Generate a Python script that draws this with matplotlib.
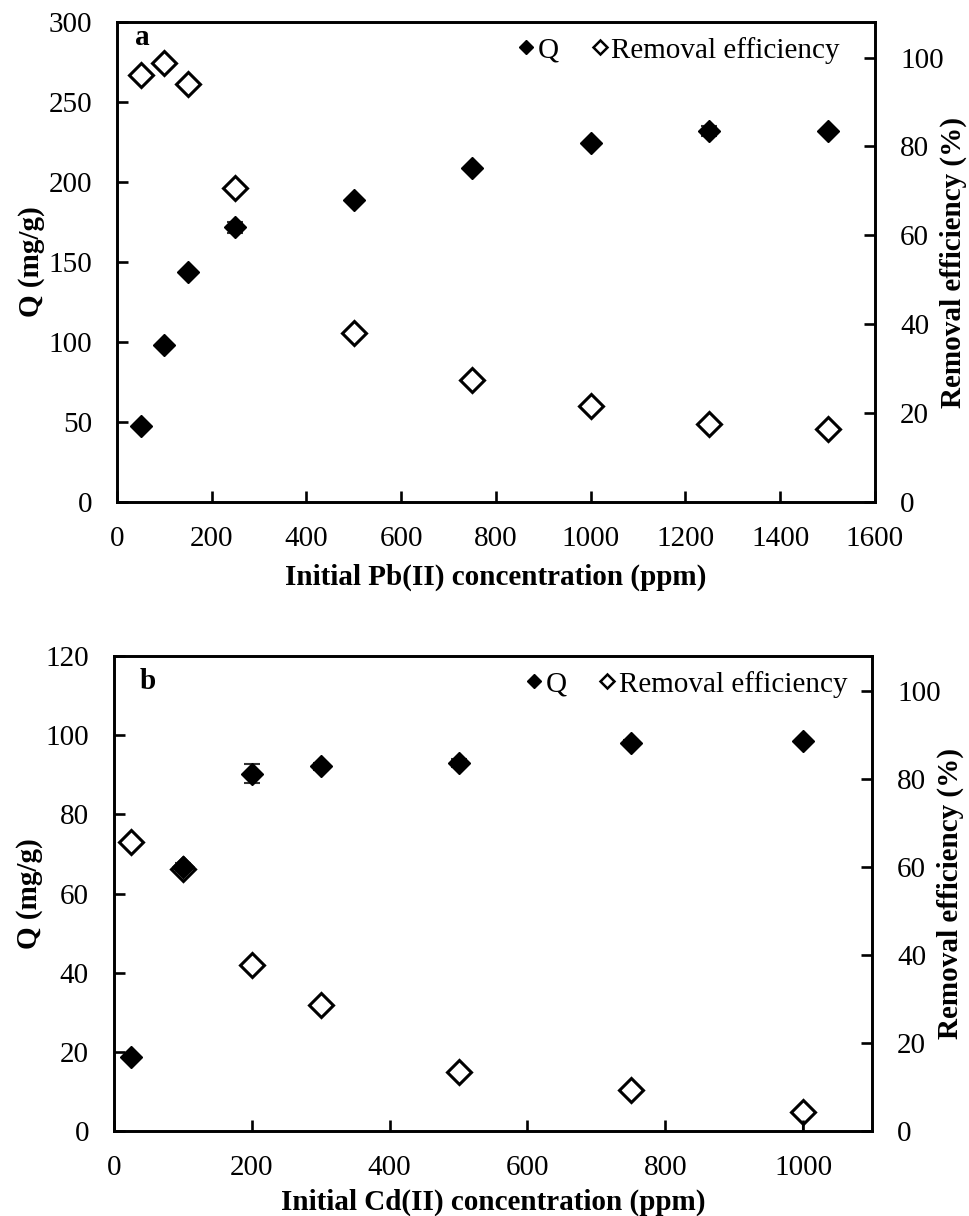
import matplotlib
matplotlib.use("Agg")
import matplotlib.pyplot as plt
from matplotlib.lines import Line2D

plt.rcParams["font.family"] = ["Liberation Serif", "DejaVu Serif"]

# Pb(II) adsorption
pb_conc = [50, 100, 150, 250, 500, 750, 1000, 1250, 1500]
pb_q = [47.5, 98.3, 143.7, 171.8, 188.8, 208.6, 224.3, 231.7, 231.7]
pb_q_err = [1.0, 1.0, 1.5, 3.5, 1.0, 1.0, 1.5, 3.0, 1.0]
pb_removal = [96.1, 98.7, 94.1, 70.7, 38.0, 27.4, 21.6, 17.5, 16.5]
pb_removal_err = [0.5, 0.5, 0.5, 0.5, 0.5, 0.5, 0.5, 0.5, 0.5]

# Cd(II) adsorption
cd_conc = [25, 100, 200, 300, 500, 750, 1000]
cd_q = [18.6, 66.7, 90.3, 92.1, 93.0, 98.1, 98.6]
cd_q_err = [0.5, 1.0, 2.4, 0.8, 1.0, 0.8, 0.5]
cd_removal = [65.7, 59.6, 37.7, 28.6, 13.4, 9.3, 4.3]
cd_removal_err_low = [0.5, 0.5, 0.5, 0.5, 0.5, 0.5, 5.0]
cd_removal_err_high = [0.5, 0.5, 0.5, 0.5, 0.5, 0.5, 0.0]

FS = 21
SPINE_W = 1.9
MS = 12


def draw_panel(ax, conc, q, q_err, removal, removal_err, letter, letter_xy,
               xlabel, xlabel_pad, xlim, xticks, qmax, qticks, leg_x):
    ax2 = ax.twinx()
    ax.set_zorder(ax2.get_zorder() + 1)
    ax.patch.set_visible(False)

    ax2.errorbar(conc, removal, yerr=removal_err, fmt="none", ecolor="black",
                 elinewidth=1.5, capsize=5, capthick=1.5, zorder=2)
    ax2.plot(conc, removal, ls="none", marker="D", ms=MS, mfc="white",
             mec="black", mew=2.2, zorder=3)
    ax.errorbar(conc, q, yerr=q_err, fmt="D", ms=MS - 0.5,
                mfc="black", mec="black", ecolor="#333333",
                elinewidth=1.5, capsize=6, capthick=1.5, zorder=3)

    ax.set_xlim(*xlim)
    ax.set_xticks(xticks)
    ax.set_ylim(0, qmax)
    ax.set_yticks(qticks)
    ax2.set_ylim(0, 108)
    ax2.set_yticks([0, 20, 40, 60, 80, 100])

    for a in (ax, ax2):
        for s in a.spines.values():
            s.set_linewidth(SPINE_W)
        a.tick_params(direction="in", length=8, width=SPINE_W,
                      labelsize=FS, pad=18)
    ax.tick_params(axis="x", pad=17)

    ax.set_xlabel(xlabel, fontsize=FS, fontweight="bold", labelpad=xlabel_pad)
    ax.set_ylabel("Q (mg/g)", fontsize=FS, fontweight="bold", labelpad=2)
    ax2.set_ylabel("Removal efficiency (%)", fontsize=FS,
                   fontweight="bold", labelpad=-2.5)

    ax.text(letter_xy[0], letter_xy[1], letter, transform=ax.transAxes,
            fontsize=FS, fontweight="bold", va="top", ha="left")

    handles = [
        Line2D([], [], ls="none", marker="D", ms=7, mfc="black", mec="black"),
        Line2D([], [], ls="none", marker="D", ms=7, mfc="white", mec="black",
               mew=1.8),
    ]
    ax.legend(handles, ["Q", "Removal efficiency"], loc="upper right",
              ncol=2, frameon=False, fontsize=FS, handlelength=0.6,
              handletextpad=0.1, columnspacing=1.1, borderaxespad=0.1,
              bbox_to_anchor=(leg_x, 1.0))


fig = plt.figure(figsize=(9.7, 12.16), dpi=100)
W, H = 970, 1216

ax_a = fig.add_axes([117 / W, 1 - 502 / H, (875 - 117) / W, (502 - 22) / H])
draw_panel(ax_a, pb_conc, pb_q, pb_q_err, pb_removal, pb_removal_err,
           "a", (0.024, 0.995), "Initial Pb(II) concentration (ppm)", 9,
           (0, 1600), range(0, 1601, 200), 300, range(0, 301, 50), 0.973)

ax_b = fig.add_axes([114 / W, 1 - 1131 / H, (872 - 114) / W, (1131 - 656) / H])
draw_panel(ax_b, cd_conc, cd_q, cd_q_err, cd_removal,
           [cd_removal_err_low, cd_removal_err_high],
           "b", (0.034, 0.975), "Initial Cd(II) concentration (ppm)", 6,
           (0, 1100), range(0, 1001, 200), 120, range(0, 121, 20), 0.987)

fig.savefig("out.png", dpi=100, facecolor="white")
